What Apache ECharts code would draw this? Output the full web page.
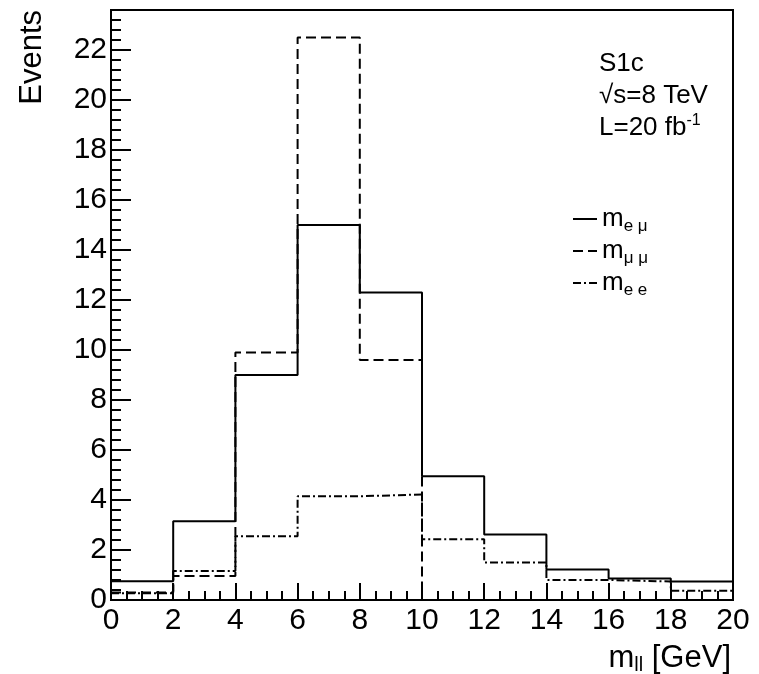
<!DOCTYPE html>
<html>
<head>
<meta charset="utf-8">
<script src="https://cdn.jsdelivr.net/npm/echarts@6/dist/echarts.min.js"></script>
<style>
  html, body { margin: 0; padding: 0; background: #fff; }
  #chart { width: 759px; height: 674px; }
</style>
</head>
<body>
<div id="chart"></div>
<script>
// Histogram bins (GeV) and event counts per bin
const binEdges = [0, 2, 4, 6, 8, 10, 12, 14, 16, 18, 20];
const eventsEMu = [0.75, 3.15, 9.0, 15.0, 12.3, 4.95, 2.62, 1.22, 0.86, 0.74];
const eventsMuMu = [0.3, 0.96, 9.9, 22.5, 9.6, 0, 0, 0, 0, 0];
const eventsEE = [0.27, 1.16, 2.55, 4.15, 4.22, 2.43, 1.5, 0.8, 0.74, 0.37];

// Axis tick labels
const xTickLabels = [0, 2, 4, 6, 8, 10, 12, 14, 16, 18, 20];
const yTickLabels = [0, 2, 4, 6, 8, 10, 12, 14, 16, 18, 20, 22];

// Legend entries: main symbol and subscript
const seriesNames = ['emu', 'mumu', 'ee'];
const legendSubscripts = { emu: 'e μ', mumu: 'μ μ', ee: 'e e' };

const FONT = "'Liberation Sans', Arial, Helvetica, sans-serif";

// Step outline: each bin value held from its low edge to the next edge
function stepPoints(values) {
  const pts = values.map((v, i) => [binEdges[i], v]);
  pts.push([binEdges[binEdges.length - 1], values[values.length - 1]]);
  return pts;
}

const chart = echarts.init(document.getElementById('chart'), null, { renderer: 'canvas' });

const lineStyles = {
  emu: { type: 'solid' },
  mumu: { type: [10, 5] },
  ee: { type: [8, 3, 2, 3] }
};
const seriesValues = { emu: eventsEMu, mumu: eventsMuMu, ee: eventsEE };

chart.setOption({
  animation: false,
  backgroundColor: '#fff',
  grid: {
    left: 111, right: 26, top: 10, bottom: 74,
    show: true, borderColor: '#000', borderWidth: 2, backgroundColor: 'transparent'
  },
  xAxis: {
    type: 'value', min: 0, max: 20, interval: 2,
    axisLine: { show: true, onZero: false, lineStyle: { color: '#000', width: 2 } },
    axisTick: { show: true, inside: true, length: 17, lineStyle: { color: '#000', width: 2 } },
    minorTick: { show: true, splitNumber: 4, length: 9, lineStyle: { color: '#000', width: 2 } },
    splitLine: { show: false },
    axisLabel: {
      color: '#000', fontFamily: FONT, fontSize: 30, margin: 6,
      formatter: v => xTickLabels.includes(v) ? String(v) : ''
    }
  },
  yAxis: {
    type: 'value', min: 0, max: 23.6, interval: 2,
    axisLine: { show: true, lineStyle: { color: '#000', width: 2 } },
    axisTick: { show: true, inside: true, length: 20, lineStyle: { color: '#000', width: 2 } },
    minorTick: { show: true, splitNumber: 5, length: 10, lineStyle: { color: '#000', width: 2 } },
    splitLine: { show: false },
    axisLabel: {
      color: '#000', fontFamily: FONT, fontSize: 30, margin: 4,
      showMaxLabel: false,
      formatter: v => yTickLabels.includes(v) ? String(v) : ''
    }
  },
  legend: {
    orient: 'vertical', left: 567, top: 198, itemGap: 0,
    itemWidth: 24, itemHeight: 14,
    data: seriesNames,
    itemStyle: { opacity: 0, borderWidth: 0 },
    formatter: name => '{m|m}{s|' + legendSubscripts[name] + '}',
    textStyle: {
      color: '#000', fontFamily: FONT, fontSize: 24, lineHeight: 32,
      rich: {
        m: { fontFamily: FONT, fontSize: 26, lineHeight: 32, color: '#000' },
        s: { fontFamily: FONT, fontSize: 17, lineHeight: 16, verticalAlign: 'bottom', color: '#000' }
      }
    }
  },
  series: seriesNames.map(name => ({
    name: name,
    type: 'line',
    step: 'end',
    symbol: 'none',
    showSymbol: false,
    data: stepPoints(seriesValues[name]),
    lineStyle: Object.assign({ color: '#000', width: 2 }, lineStyles[name]),
    itemStyle: { color: '#000' },
    emphasis: { disabled: true }
  })),
  graphic: [
    {
      type: 'text', x: 32, y: 10, rotation: Math.PI / 2,
      style: { text: 'Events', font: '31px ' + FONT, fill: '#000', align: 'right', verticalAlign: 'middle' }
    },
    {
      type: 'text', x: 731, y: 658,
      style: {
        text: '{m|m}{s|ll}{g| [GeV]}', align: 'right', verticalAlign: 'middle', fill: '#000',
        rich: {
          m: { fontFamily: FONT, fontSize: 31, lineHeight: 34, fill: '#000' },
          s: { fontFamily: FONT, fontSize: 20, lineHeight: 20, verticalAlign: 'bottom', fill: '#000' },
          g: { fontFamily: FONT, fontSize: 31, lineHeight: 34, fill: '#000' }
        }
      }
    },
    {
      type: 'text', x: 599, y: 64,
      style: { text: 'S1c', font: '26px ' + FONT, fill: '#000', align: 'left', verticalAlign: 'middle' }
    },
    {
      type: 'text', x: 599, y: 96,
      style: { text: '√s=8 TeV', font: '26px ' + FONT, fill: '#000', align: 'left', verticalAlign: 'middle' }
    },
    {
      type: 'text', x: 599, y: 128,
      style: {
        text: '{a|L=20 fb}{b|-1}', align: 'left', verticalAlign: 'middle', fill: '#000',
        rich: {
          a: { fontFamily: FONT, fontSize: 26, lineHeight: 30, fill: '#000' },
          b: { fontFamily: FONT, fontSize: 16, lineHeight: 12, verticalAlign: 'top', fill: '#000' }
        }
      }
    }
  ]
});
</script>
</body>
</html>
